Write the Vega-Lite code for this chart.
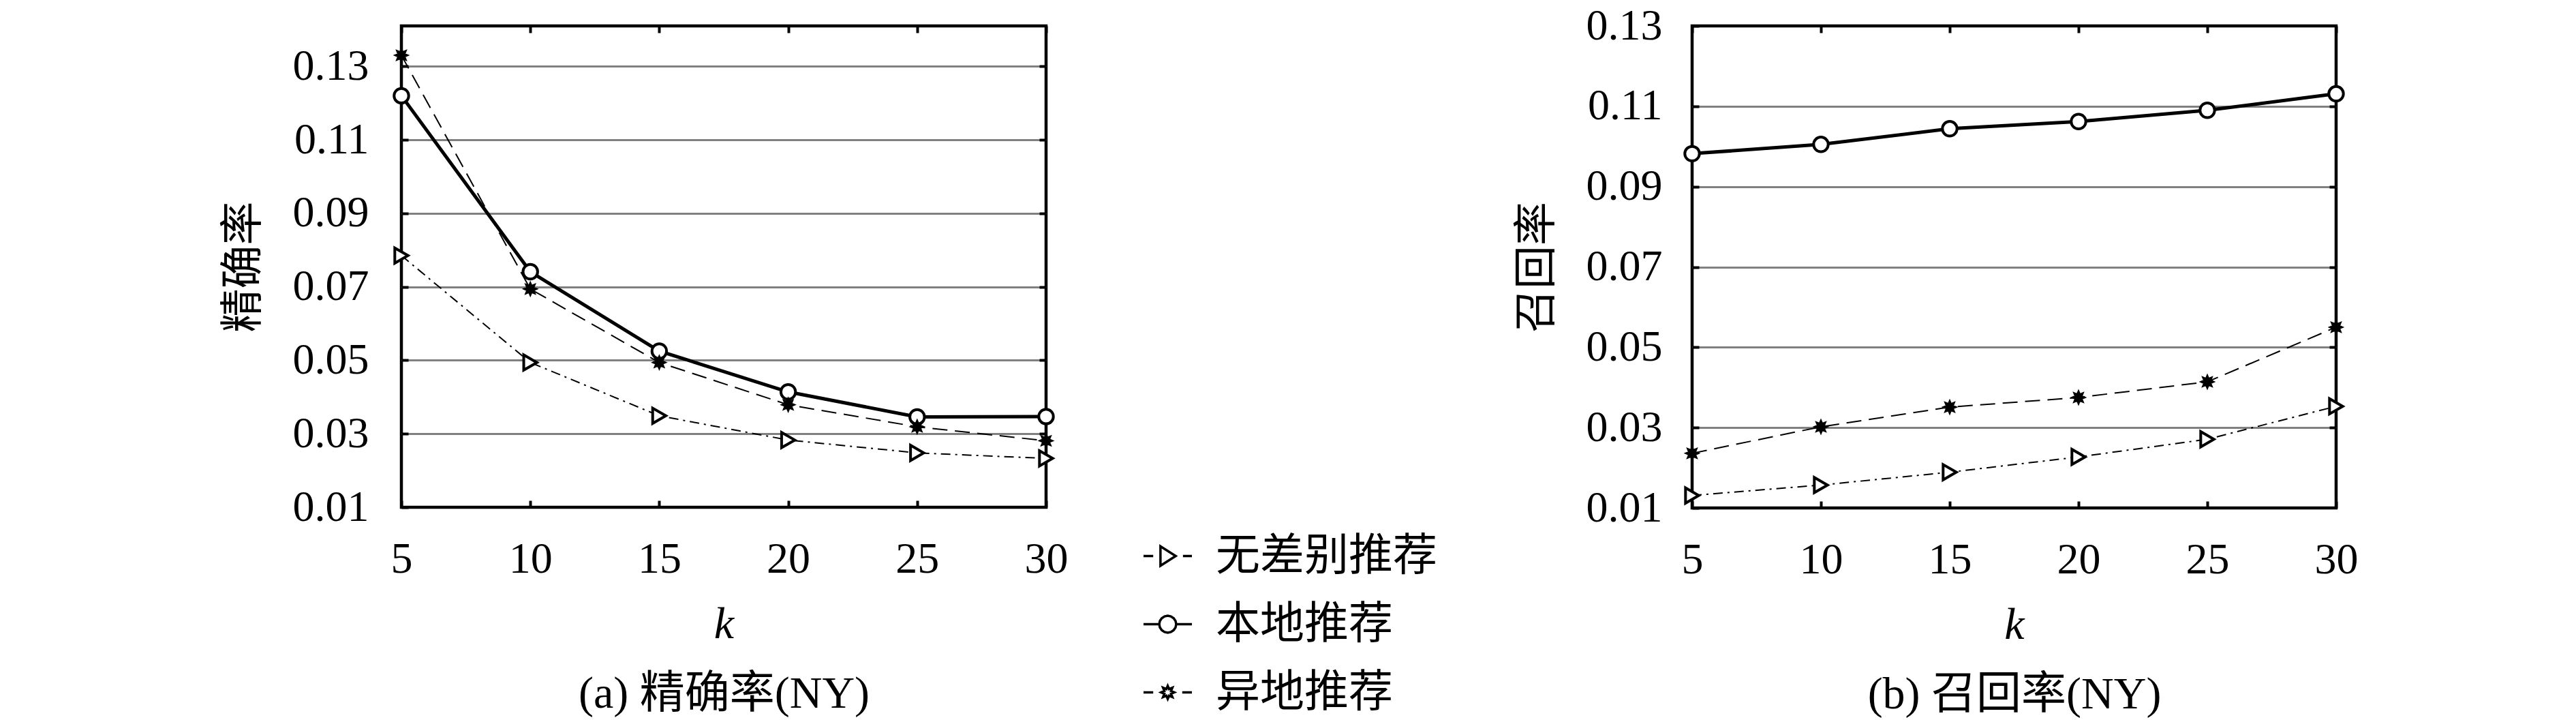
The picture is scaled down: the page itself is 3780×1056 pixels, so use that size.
{
  "$schema": "https://vega.github.io/schema/vega-lite/v6.json",
  "background": "white",
  "padding": {"left": 322, "top": 3, "right": 10, "bottom": 0},
  "spacing": 107,
  "datasets": {
    "precision": [
      {"k": 5, "series": "无差别推荐", "value": 0.0785},
      {"k": 10, "series": "无差别推荐", "value": 0.0494},
      {"k": 15, "series": "无差别推荐", "value": 0.0349},
      {"k": 20, "series": "无差别推荐", "value": 0.0283},
      {"k": 25, "series": "无差别推荐", "value": 0.0248},
      {"k": 30, "series": "无差别推荐", "value": 0.0233},
      {"k": 5, "series": "本地推荐", "value": 0.122},
      {"k": 10, "series": "本地推荐", "value": 0.0741},
      {"k": 15, "series": "本地推荐", "value": 0.0525},
      {"k": 20, "series": "本地推荐", "value": 0.0414},
      {"k": 25, "series": "本地推荐", "value": 0.0346},
      {"k": 30, "series": "本地推荐", "value": 0.0347},
      {"k": 5, "series": "异地推荐", "value": 0.133},
      {"k": 10, "series": "异地推荐", "value": 0.0694},
      {"k": 15, "series": "异地推荐", "value": 0.0494},
      {"k": 20, "series": "异地推荐", "value": 0.0379},
      {"k": 25, "series": "异地推荐", "value": 0.0319},
      {"k": 30, "series": "异地推荐", "value": 0.0281}
    ],
    "recall": [
      {"k": 5, "series": "无差别推荐", "value": 0.0131},
      {"k": 10, "series": "无差别推荐", "value": 0.0157},
      {"k": 15, "series": "无差别推荐", "value": 0.0189},
      {"k": 20, "series": "无差别推荐", "value": 0.0227},
      {"k": 25, "series": "无差别推荐", "value": 0.0271},
      {"k": 30, "series": "无差别推荐", "value": 0.0353},
      {"k": 5, "series": "本地推荐", "value": 0.0982},
      {"k": 10, "series": "本地推荐", "value": 0.1005},
      {"k": 15, "series": "本地推荐", "value": 0.1044},
      {"k": 20, "series": "本地推荐", "value": 0.1062},
      {"k": 25, "series": "本地推荐", "value": 0.109},
      {"k": 30, "series": "本地推荐", "value": 0.1131},
      {"k": 5, "series": "异地推荐", "value": 0.0236},
      {"k": 10, "series": "异地推荐", "value": 0.0302},
      {"k": 15, "series": "异地推荐", "value": 0.0351},
      {"k": 20, "series": "异地推荐", "value": 0.0375},
      {"k": 25, "series": "异地推荐", "value": 0.0414},
      {"k": 30, "series": "异地推荐", "value": 0.055}
    ]
  },
  "config": {
    "view": {"stroke": "black", "strokeWidth": 4.5},
    "axis": {
      "domain": false,
      "tickColor": "black",
      "tickWidth": 4,
      "tickSize": -10,
      "labelFont": "Liberation Serif",
      "labelFontSize": 64,
      "labelColor": "black",
      "titleColor": "black",
      "titleFontWeight": "normal",
      "gridWidth": 3,
      "gridOpacity": 1,
      "labelFlush": false,
      "labelOverlap": false,
      "labelBound": false
    }
  },
  "resolve": {
    "scale": {"shape": "independent"},
    "legend": {"shape": "independent"}
  },
  "hconcat": [
    {
      "width": 946,
      "height": 706,
      "data": {"name": "precision"},
      "resolve": {"axis": {"x": "independent", "y": "independent"}},
      "layer": [
        {
          "transform": [{"filter": "datum.series === '本地推荐'"}],
          "mark": {"type": "line", "color": "black", "strokeWidth": 5},
          "encoding": {
            "x": {"field": "k", "type": "quantitative", "scale": {"domain": [5, 30], "nice": false, "zero": false},
              "axis": {"orient": "bottom", "values": [5, 10, 15, 20, 25, 30], "grid": false, "labelPadding": 54, "title": "k", "titleFont": "Liberation Serif", "titleFontStyle": "italic", "titleFontSize": 66, "titlePadding": 31}},
            "y": {"field": "value", "type": "quantitative", "scale": {"domain": [0.01, 0.141], "nice": false, "zero": false},
              "axis": {"orient": "left", "values": [0.01, 0.03, 0.05, 0.07, 0.09, 0.11, 0.13], "format": ".2f", "grid": true,
                "gridColor": {"condition": {"test": "datum.value < 0.0105", "value": "black"}, "value": "#808080"},
                "labelPadding": 58, "title": "精确率", "titleFont": "Noto Sans CJK SC", "titleFontSize": 64, "titlePadding": 40}}
          }
        },
        {
          "transform": [{"filter": "datum.series === '无差别推荐'"}],
          "mark": {"type": "line", "color": "black", "strokeWidth": 2, "strokeDash": [14, 7, 3, 7]},
          "encoding": {
            "x": {"field": "k", "type": "quantitative", "axis": null},
            "y": {"field": "value", "type": "quantitative", "axis": null}
          }
        },
        {
          "transform": [{"filter": "datum.series === '异地推荐'"}],
          "mark": {"type": "line", "color": "black", "strokeWidth": 2, "strokeDash": [22, 11]},
          "encoding": {
            "x": {"field": "k", "type": "quantitative", "axis": null},
            "y": {"field": "value", "type": "quantitative", "axis": null}
          }
        },
        {
          "transform": [{"filter": "datum.series === '无差别推荐'"}],
          "mark": {"type": "point", "shape": "triangle-right", "size": 500, "fill": "white", "stroke": "black", "opacity": 1, "strokeWidth": 4},
          "encoding": {
            "x": {"field": "k", "type": "quantitative",
              "axis": {"orient": "top", "values": [5, 10, 15, 20, 25, 30], "labels": false, "grid": false, "title": null}},
            "y": {"field": "value", "type": "quantitative",
              "axis": {"orient": "right", "values": [0.03, 0.05, 0.07, 0.09, 0.11, 0.13], "labels": false, "grid": false, "title": null}}
          }
        },
        {
          "transform": [{"filter": "datum.series === '本地推荐'"}],
          "mark": {"type": "point", "shape": "circle", "size": 460, "fill": "white", "stroke": "black", "opacity": 1, "strokeWidth": 4},
          "encoding": {
            "x": {"field": "k", "type": "quantitative", "axis": null},
            "y": {"field": "value", "type": "quantitative", "axis": null}
          }
        },
        {
          "transform": [{"filter": "datum.series === '异地推荐'"}],
          "mark": {"type": "point", "shape": "M1,0L0.508,0.21L0.707,0.707L0.21,0.508L0,1L-0.21,0.508L-0.707,0.707L-0.508,0.21L-1,0L-0.508,-0.21L-0.707,-0.707L-0.21,-0.508L0,-1L0.21,-0.508L0.707,-0.707L0.508,-0.21Z", "size": 440, "fill": "black", "stroke": "black", "opacity": 1, "strokeWidth": 1.5},
          "encoding": {
            "x": {"field": "k", "type": "quantitative", "axis": null},
            "y": {"field": "value", "type": "quantitative", "axis": null}
          }
        },
        {
          "mark": {"type": "point", "opacity": 0},
          "encoding": {
            "x": {"field": "k", "type": "quantitative",
              "axis": {"orient": "bottom", "labels": false, "ticks": false, "grid": false, "title": "(a) 精确率(NY)", "titleFont": "Liberation Serif, Noto Sans CJK SC", "titleFontSize": 66, "titlePadding": 241}},
            "y": {"field": "value", "type": "quantitative", "axis": null},
            "shape": {"field": "series", "type": "nominal",
              "scale": {"domain": ["无差别推荐", "本地推荐", "异地推荐"], "range": ["M-1,0L-0.6,0M0.63,0L1,0M-0.3,-0.4L0.33,0L-0.3,0.4Z", "M-1,0L-0.35,0M0.35,0L1,0M0.35,0L0.323,0.134L0.247,0.247L0.134,0.323L0,0.35L-0.134,0.323L-0.247,0.247L-0.323,0.134L-0.35,0L-0.323,-0.134L-0.247,-0.247L-0.134,-0.323L0,-0.35L0.134,-0.323L0.247,-0.247L0.323,-0.134Z", "M-1,0L-0.6,0M0.6,0L1,0M0.27,0L0.137,0.057L0.191,0.191L0.057,0.137L0,0.27L-0.057,0.137L-0.191,0.191L-0.137,0.057L-0.27,0L-0.137,-0.057L-0.191,-0.191L-0.057,-0.137L0,-0.27L0.057,-0.137L0.191,-0.191L0.137,-0.057Z"]},
              "legend": {
                "orient": "none", "legendX": 1087, "legendY": 740, "title": null, "padding": 0,
                "symbolSize": 5041, "symbolOpacity": 1, "symbolFillColor": "white", "symbolStrokeColor": "black", "symbolStrokeWidth": 3.5,
                "rowPadding": 29, "labelOffset": 33, "labelLimit": 1000,
                "labelFont": "Noto Sans CJK SC", "labelFontSize": 65, "labelColor": "black",
                "encode": {
                  "symbols": {
                    "update": {
                      "fill": {"signal": "datum.value === '异地推荐' ? 'black' : 'white'"},
                      "stroke": {"value": "black"},
                      "strokeWidth": {"signal": "datum.value === '本地推荐' ? 5.5 : 3.5"},
                      "opacity": {"value": 1}
                    }
                  }
                }
              }}
          }
        }
      ]
    },
    {
      "width": 945,
      "height": 707,
      "data": {"name": "recall"},
      "resolve": {"axis": {"x": "independent", "y": "independent"}},
      "layer": [
        {
          "transform": [{"filter": "datum.series === '本地推荐'"}],
          "mark": {"type": "line", "color": "black", "strokeWidth": 5},
          "encoding": {
            "x": {"field": "k", "type": "quantitative", "scale": {"domain": [5, 30], "nice": false, "zero": false},
              "axis": {"orient": "bottom", "values": [5, 10, 15, 20, 25, 30], "grid": false, "labelPadding": 54, "title": "k", "titleFont": "Liberation Serif", "titleFontStyle": "italic", "titleFontSize": 66, "titlePadding": 31}},
            "y": {"field": "value", "type": "quantitative", "scale": {"domain": [0.01, 0.13], "nice": false, "zero": false},
              "axis": {"orient": "left", "values": [0.01, 0.03, 0.05, 0.07, 0.09, 0.11, 0.13], "format": ".2f", "grid": true,
                "gridColor": {"condition": {"test": "datum.value < 0.0105 || datum.value > 0.1295", "value": "black"}, "value": "#808080"},
                "labelPadding": 54, "title": "召回率", "titleFont": "Noto Sans CJK SC", "titleFontSize": 64, "titlePadding": 40}}
          }
        },
        {
          "transform": [{"filter": "datum.series === '无差别推荐'"}],
          "mark": {"type": "line", "color": "black", "strokeWidth": 2, "strokeDash": [14, 7, 3, 7]},
          "encoding": {
            "x": {"field": "k", "type": "quantitative", "axis": null},
            "y": {"field": "value", "type": "quantitative", "axis": null}
          }
        },
        {
          "transform": [{"filter": "datum.series === '异地推荐'"}],
          "mark": {"type": "line", "color": "black", "strokeWidth": 2, "strokeDash": [22, 11]},
          "encoding": {
            "x": {"field": "k", "type": "quantitative", "axis": null},
            "y": {"field": "value", "type": "quantitative", "axis": null}
          }
        },
        {
          "transform": [{"filter": "datum.series === '无差别推荐'"}],
          "mark": {"type": "point", "shape": "triangle-right", "size": 500, "fill": "white", "stroke": "black", "opacity": 1, "strokeWidth": 4},
          "encoding": {
            "x": {"field": "k", "type": "quantitative",
              "axis": {"orient": "top", "values": [5, 10, 15, 20, 25, 30], "labels": false, "grid": false, "title": null}},
            "y": {"field": "value", "type": "quantitative",
              "axis": {"orient": "right", "values": [0.03, 0.05, 0.07, 0.09, 0.11], "labels": false, "grid": false, "title": null}}
          }
        },
        {
          "transform": [{"filter": "datum.series === '本地推荐'"}],
          "mark": {"type": "point", "shape": "circle", "size": 460, "fill": "white", "stroke": "black", "opacity": 1, "strokeWidth": 4},
          "encoding": {
            "x": {"field": "k", "type": "quantitative", "axis": null},
            "y": {"field": "value", "type": "quantitative", "axis": null}
          }
        },
        {
          "transform": [{"filter": "datum.series === '异地推荐'"}],
          "mark": {"type": "point", "shape": "M1,0L0.508,0.21L0.707,0.707L0.21,0.508L0,1L-0.21,0.508L-0.707,0.707L-0.508,0.21L-1,0L-0.508,-0.21L-0.707,-0.707L-0.21,-0.508L0,-1L0.21,-0.508L0.707,-0.707L0.508,-0.21Z", "size": 440, "fill": "black", "stroke": "black", "opacity": 1, "strokeWidth": 1.5},
          "encoding": {
            "x": {"field": "k", "type": "quantitative", "axis": null},
            "y": {"field": "value", "type": "quantitative", "axis": null}
          }
        },
        {
          "mark": {"type": "point", "opacity": 0},
          "encoding": {
            "x": {"field": "k", "type": "quantitative",
              "axis": {"orient": "bottom", "labels": false, "ticks": false, "grid": false, "title": "(b) 召回率(NY)", "titleFont": "Liberation Serif, Noto Sans CJK SC", "titleFontSize": 66, "titlePadding": 241}},
            "y": {"field": "value", "type": "quantitative", "axis": null}
          }
        }
      ]
    }
  ]
}
